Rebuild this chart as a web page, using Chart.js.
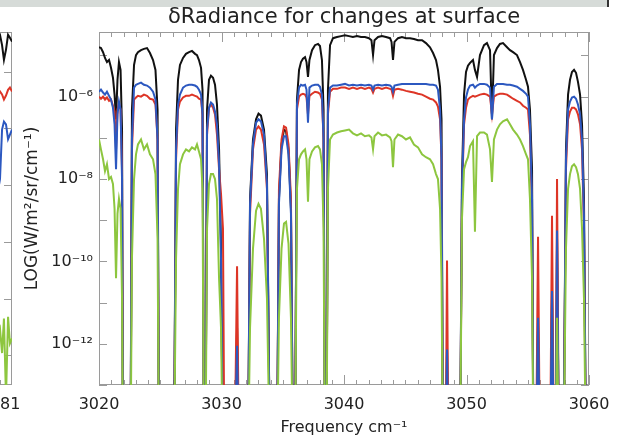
<!DOCTYPE html>
<html>
<head>
<meta charset="utf-8">
<script src="https://cdn.jsdelivr.net/npm/chart.js@4.4.1/dist/chart.umd.min.js"></script>
<style>
  html, body { margin: 0; padding: 0; background: #fff; overflow: hidden; }
  #wrap { position: relative; width: 621px; height: 437px; overflow: hidden; background: #fff; }
  #topBar { position: absolute; left: 0; top: 0; width: 607px; height: 7px; background: #d6dbd8; border-right: 2px solid #333; }
  #mainChart { position: absolute; left: 0; top: 0; }
  #leftChart { position: absolute; left: -108px; top: 0; }
</style>
</head>
<body>
<div id="wrap">
  <canvas id="mainChart" width="621" height="437"></canvas>
  <canvas id="leftChart" width="150" height="437"></canvas>
  <div id="topBar"></div>
</div>
<script>
// frequency grid (cm-1), shared by the four curves of the main panel
const freq = [
  3020.00, 3020.16, 3020.33, 3020.49, 3020.65, 3020.82, 3020.98, 3021.14, 3021.27, 3021.39, 3021.51, 3021.63, 3021.76, 3021.88,
  3021.96, 3022.57,
  3022.69, 3022.86, 3023.02, 3023.18, 3023.43, 3023.67, 3023.92, 3024.16, 3024.41, 3024.61, 3024.78,
  3024.90, 3026.12,
  3026.29, 3026.45, 3026.61, 3026.86, 3027.10, 3027.35, 3027.59, 3027.84, 3028.00, 3028.16, 3028.33, 3028.45,
  3028.57, 3028.69,
  3028.82, 3028.98, 3029.14, 3029.31, 3029.47, 3029.63, 3029.80, 3029.96,
  3030.12, 3030.24, 3031.06,
  3031.27, 3031.43, 3032.16,
  3032.33, 3032.57, 3032.82, 3033.02, 3033.22, 3033.47, 3033.71,
  3033.96, 3034.53,
  3034.69, 3034.90, 3035.10, 3035.27, 3035.47, 3035.67,
  3035.84, 3036.00,
  3036.16, 3036.33, 3036.49, 3036.65, 3036.82, 3036.94, 3037.06, 3037.18, 3037.39, 3037.63, 3037.88, 3038.04, 3038.20, 3038.33,
  3038.45, 3038.57,
  3038.69, 3038.86, 3039.10, 3039.43, 3039.76, 3040.08, 3040.41, 3040.73, 3041.06, 3041.39, 3041.71, 3042.04,
  3042.24, 3042.37, 3042.49, 3042.78, 3043.10, 3043.43, 3043.76, 3043.88, 3044.00, 3044.12, 3044.41, 3044.73,
  3045.06, 3045.39, 3045.71, 3046.04, 3046.37, 3046.69, 3047.02, 3047.27, 3047.51, 3047.67, 3047.84, 3047.96,
  3048.08, 3048.29, 3048.41, 3048.53, 3049.47,
  3049.63, 3049.80, 3049.96, 3050.12, 3050.29, 3050.53, 3050.69, 3050.86, 3051.10, 3051.43, 3051.67, 3051.92, 3052.08, 3052.24,
  3052.49, 3052.73, 3052.98, 3053.31, 3053.55, 3053.80, 3054.12, 3054.37, 3054.61, 3054.86, 3055.02, 3055.18, 3055.35,
  3055.47, 3055.67, 3055.84, 3056.00, 3056.82, 3056.98, 3057.14, 3057.27, 3057.39, 3057.55, 3057.92,
  3058.12, 3058.29, 3058.45, 3058.61, 3058.78, 3058.94, 3059.10, 3059.27, 3059.43, 3059.59,
  3059.76, 3060.00
];

// log10 of the radiance change (-15 = far below the axis)
const blackLog = [
  -4.80, -4.82, -4.92, -5.06, -5.16, -5.11, -5.30, -5.54, -5.95, -6.55, -5.59, -5.16, -5.35, -6.80,
  -15, -15,
  -6.31, -5.23, -4.99, -4.92, -4.87, -4.84, -4.82, -4.94, -5.11, -5.35, -6.31,
  -15, -15,
  -6.80, -5.59, -5.23, -5.06, -4.96, -4.92, -4.89, -4.96, -4.99, -5.11, -5.30, -5.83,
  -15, -15,
  -6.31, -5.59, -5.49, -5.54, -5.71, -6.19, -7.28, -9.69,
  -15, -15, -15,
  -11.61, -15, -15,
  -8.48, -7.04, -6.55, -6.41, -6.46, -6.80, -7.88,
  -15, -15,
  -8.48, -7.16, -6.80, -6.84, -7.28, -8.72,
  -15, -15,
  -6.07, -5.35, -5.16, -5.08, -5.04, -5.16, -5.52, -5.11, -4.87, -4.75, -4.72, -4.77, -5.11, -6.31,
  -15, -15,
  -5.83, -4.75, -4.58, -4.55, -4.53, -4.51, -4.53, -4.55, -4.53, -4.55, -4.55, -4.58,
  -4.63, -4.99, -4.63, -4.55, -4.53, -4.55, -4.58, -4.67, -5.11, -4.67, -4.58, -4.55,
  -4.58, -4.58, -4.60, -4.63, -4.63, -4.70, -4.80, -4.94, -5.11, -5.35, -5.76, -6.55,
  -15, -15, -12.10, -15, -15,
  -8.00, -5.95, -5.40, -5.25, -5.18, -5.11, -5.35, -5.52, -4.99, -4.75, -4.70, -4.87, -6.55, -4.99,
  -4.82, -4.72, -4.70, -4.80, -4.87, -4.92, -4.99, -5.16, -5.35, -5.59, -5.76, -6.31, -7.76,
  -15, -15, -11.61, -15, -15, -10.89, -15, -15, -9.45, -15, -15,
  -7.28, -5.95, -5.59, -5.40, -5.35, -5.42, -5.64, -5.95, -6.67, -8.48,
  -15, -15
];

const redLog = [
  -6.00, -6.05, -6.00, -6.07, -6.02, -6.10, -6.07, -6.22, -6.36, -7.28, -6.31, -6.17, -6.31, -7.76,
  -15, -15,
  -7.28, -6.07, -6.02, -5.98, -6.00, -5.95, -5.98, -6.05, -6.07, -6.19, -7.04,
  -15, -15,
  -7.52, -6.31, -6.12, -6.02, -5.98, -5.98, -5.95, -5.98, -6.00, -6.05, -6.07, -6.43,
  -15, -15,
  -6.92, -6.27, -6.19, -6.27, -6.43, -6.92, -7.76, -8.36,
  -9.20, -15, -15,
  -10.12, -15, -15,
  -8.84, -7.28, -6.80, -6.72, -6.80, -7.16, -8.24,
  -15, -15,
  -8.24, -7.04, -6.72, -6.75, -7.16, -8.48,
  -15, -15,
  -6.31, -6.00, -5.95, -5.93, -5.95, -6.02, -6.43, -5.98, -5.93, -5.88, -5.90, -5.93, -6.07, -7.04,
  -15, -15,
  -6.43, -5.88, -5.81, -5.81, -5.78, -5.78, -5.81, -5.78, -5.81, -5.78, -5.81, -5.78,
  -5.81, -5.90, -5.81, -5.78, -5.81, -5.78, -5.81, -5.83, -5.98, -5.83, -5.81, -5.83,
  -5.86, -5.88, -5.90, -5.93, -5.95, -6.00, -6.05, -6.07, -6.14, -6.24, -6.55, -7.52,
  -15, -15, -9.98, -15, -15,
  -8.48, -6.67, -6.27, -6.07, -6.02, -5.98, -6.00, -5.98, -5.95, -5.93, -5.95, -6.00, -6.43, -6.00,
  -5.95, -5.93, -5.93, -5.95, -6.00, -6.05, -6.10, -6.14, -6.22, -6.27, -6.31, -6.92, -8.72,
  -15, -15, -9.40, -15, -15, -8.89, -15, -15, -8.00, -15, -15,
  -7.76, -6.55, -6.36, -6.27, -6.27, -6.31, -6.43, -6.67, -7.28, -9.20,
  -15, -15
];

const blueLog = [
  -5.88, -5.83, -5.90, -5.95, -5.88, -5.98, -6.07, -6.27, -6.67, -7.76, -6.43, -6.12, -6.31, -8.00,
  -15, -15,
  -7.04, -5.78, -5.71, -5.69, -5.66, -5.71, -5.73, -5.78, -5.88, -6.07, -7.04,
  -15, -15,
  -7.28, -6.19, -5.95, -5.78, -5.73, -5.71, -5.71, -5.73, -5.76, -5.83, -5.95, -6.43,
  -15, -15,
  -6.80, -6.27, -6.14, -6.19, -6.36, -6.67, -7.64, -9.93,
  -15, -15, -15,
  -12.05, -15, -15,
  -8.60, -7.16, -6.63, -6.55, -6.60, -6.92, -8.12,
  -15, -15,
  -8.60, -7.28, -6.96, -6.96, -7.40, -8.84,
  -15, -15,
  -6.19, -5.78, -5.71, -5.73, -5.71, -5.83, -6.63, -5.78, -5.73, -5.71, -5.71, -5.76, -5.95, -7.04,
  -15, -15,
  -6.31, -5.78, -5.73, -5.73, -5.71, -5.69, -5.73, -5.71, -5.73, -5.71, -5.73, -5.71,
  -5.73, -5.83, -5.73, -5.71, -5.73, -5.71, -5.73, -5.76, -5.88, -5.73, -5.71, -5.69,
  -5.69, -5.69, -5.69, -5.69, -5.69, -5.69, -5.71, -5.71, -5.73, -5.83, -6.31, -7.52,
  -15, -15, -12.14, -15, -15,
  -8.24, -6.55, -6.02, -5.83, -5.73, -5.71, -5.78, -5.73, -5.69, -5.69, -5.71, -5.78, -6.55, -5.76,
  -5.69, -5.69, -5.69, -5.71, -5.71, -5.73, -5.76, -5.81, -5.86, -5.93, -6.00, -6.67, -8.48,
  -15, -15, -11.37, -15, -15, -10.72, -15, -15, -9.25, -15, -15,
  -7.52, -6.31, -6.12, -6.02, -6.00, -6.05, -6.19, -6.43, -7.04, -8.96,
  -15, -15
];

const greenLog = [
  -7.04, -7.28, -7.52, -7.81, -7.64, -8.00, -7.95, -8.12, -8.72, -10.41, -8.84, -8.48, -8.72, -10.89,
  -15, -15,
  -9.93, -8.00, -7.40, -7.16, -7.04, -7.28, -7.16, -7.40, -7.52, -7.88, -9.45,
  -15, -15,
  -9.93, -8.24, -7.64, -7.40, -7.28, -7.33, -7.23, -7.28, -7.16, -7.33, -7.52, -8.24,
  -15, -15,
  -9.20, -8.12, -7.88, -7.88, -8.00, -8.48, -10.41, -11.61,
  -15, -15, -15,
  -15, -15, -15,
  -11.61, -9.69, -8.77, -8.60, -8.72, -9.45, -10.89,
  -15, -15,
  -11.37, -9.69, -9.08, -9.04, -9.57, -11.37,
  -15, -15,
  -8.24, -7.52, -7.40, -7.33, -7.28, -7.52, -8.55, -7.52, -7.33, -7.23, -7.20, -7.28, -7.64, -9.20,
  -15, -15,
  -8.24, -7.04, -6.92, -6.87, -6.84, -6.82, -6.80, -6.89, -6.94, -6.89, -6.96, -6.94,
  -6.99, -7.28, -6.96, -6.87, -6.94, -6.92, -6.99, -7.08, -7.71, -7.04, -6.92, -6.96,
  -7.04, -6.99, -7.16, -7.23, -7.40, -7.47, -7.52, -7.64, -7.88, -8.00, -8.72, -10.41,
  -15, -15, -15, -15, -15,
  -8.96, -7.76, -7.59, -7.47, -7.20, -7.08, -9.28, -6.96, -6.87, -6.87, -6.92, -7.28, -8.07, -7.04,
  -6.80, -6.67, -6.60, -6.55, -6.67, -6.80, -6.92, -7.04, -7.20, -7.40, -7.52, -8.48, -10.41,
  -15, -15, -15, -15, -15, -15, -15, -15, -11.37, -15, -15,
  -9.69, -8.24, -7.88, -7.69, -7.64, -7.71, -7.88, -8.24, -9.20, -10.89,
  -15, -15
];

const xTicks = [3020, 3030, 3040, 3050, 3060];
const yTickExp = [-12, -10, -8, -6];
const yTickLabels = ['10⁻¹²', '10⁻¹⁰', '10⁻⁸', '10⁻⁶'];

// the neighbouring panel, only its right edge shows
const leftFreq = [2980.80, 2981.00, 2981.12, 2981.23, 2981.35, 2981.47, 2981.58, 2981.70];
const leftBlackLog = [-6.26, -6.35, -6.53, -6.79, -6.61, -6.35, -6.40, -6.47];
const leftRedLog = [-7.40, -7.35, -7.40, -7.49, -7.42, -7.32, -7.28, -7.35];
const leftBlueLog = [-9.25, -8.89, -8.02, -7.88, -7.93, -8.19, -8.11, -8.02];
const leftGreenLog = [-11.70, -11.53, -11.96, -11.35, -12.75, -11.32, -11.79, -11.70];
const leftXTicks = [2981];

const FONT = "'DejaVu Sans', 'Liberation Sans', sans-serif";
const TEXT = '#222222';
const COLORS = { black: '#111111', red: '#dd3526', blue: '#2c58c0', green: '#8dc63f' };

function toPoints(xs, logs) {
  return xs.map((f, i) => ({ x: f, y: Math.pow(10, logs[i]) }));
}

function series(label, color, xs, logs, order) {
  return {
    label: label,
    data: toPoints(xs, logs),
    borderColor: color,
    borderWidth: 2,
    pointRadius: 0,
    tension: 0,
    fill: false,
    order: order
  };
}

// box round the plot with inward ticks, IDL style
const frameTicks = {
  id: 'frameTicks',
  beforeDatasetsDraw(chart, args, opts) {
    const { ctx, chartArea: a, scales: { x, y } } = chart;
    ctx.save();
    ctx.strokeStyle = opts.color;
    ctx.lineWidth = 1;
    ctx.strokeRect(a.left + 0.5, a.top + 0.5, a.width - 1, a.height - 1);
    ctx.beginPath();
    for (let v = Math.ceil(x.min); v <= x.max; v++) {
      const px = Math.round(x.getPixelForValue(v)) + 0.5;
      const len = v % 10 === 0 ? 10 : 5;
      ctx.moveTo(px, a.bottom); ctx.lineTo(px, a.bottom - len);
      ctx.moveTo(px, a.top); ctx.lineTo(px, a.top + len);
    }
    const lo = Math.ceil(Math.log10(y.min) - 1e-6);
    const hi = Math.floor(Math.log10(y.max) + 1e-6);
    for (let e = lo; e <= hi; e++) {
      const py = Math.round(y.getPixelForValue(Math.pow(10, e))) + 0.5;
      ctx.moveTo(a.left, py); ctx.lineTo(a.left + 8, py);
      ctx.moveTo(a.right, py); ctx.lineTo(a.right - 8, py);
    }
    ctx.stroke();
    ctx.restore();
  }
};

new Chart(document.getElementById('mainChart'), {
  type: 'line',
  data: {
    datasets: [
      series('black', COLORS.black, freq, blackLog, 4),
      series('red', COLORS.red, freq, redLog, 3),
      series('blue', COLORS.blue, freq, blueLog, 2),
      series('green', COLORS.green, freq, greenLog, 1)
    ]
  },
  options: {
    responsive: false,
    animation: false,
    devicePixelRatio: 1,
    layout: { padding: { left: 0, right: 32, top: 0, bottom: 0 } },
    plugins: {
      legend: { display: false },
      tooltip: { enabled: false },
      title: {
        display: true,
        text: 'δRadiance for changes at surface',
        fullSize: false,
        color: TEXT,
        font: { family: FONT, size: 21, weight: 'normal' },
        padding: { top: 5, bottom: 1.8 }
      },
      frameTicks: { color: '#9a9a9a' }
    },
    scales: {
      x: {
        type: 'linear',
        min: 3020,
        max: 3060,
        afterBuildTicks: s => { s.ticks = xTicks.map(v => ({ value: v })); },
        afterFit: s => { s.height = 52; s.paddingLeft = 0; s.paddingRight = 0; },
        grid: { display: false, drawTicks: false },
        border: { display: false },
        ticks: {
          color: TEXT,
          font: { family: FONT, size: 16 },
          padding: 10,
          maxRotation: 0,
          autoSkip: false,
          callback: v => String(v)
        },
        title: {
          display: true,
          text: 'Frequency cm⁻¹',
          color: TEXT,
          font: { family: FONT, size: 16 },
          padding: 0
        }
      },
      y: {
        type: 'logarithmic',
        min: 1e-13,
        max: Math.pow(10, -4.43),
        afterBuildTicks: s => { s.ticks = yTickExp.map(e => ({ value: Math.pow(10, e) })); },
        afterFit: s => { s.width = 99; },
        grid: { display: false, drawTicks: false },
        border: { display: false },
        ticks: {
          color: TEXT,
          font: { family: FONT, size: 16 },
          padding: 6,
          autoSkip: false,
          callback: (v, i) => yTickLabels[i]
        },
        title: {
          display: true,
          text: 'LOG(W/m²/sr/cm⁻¹)',
          color: TEXT,
          font: { family: FONT, size: 17 },
          padding: { top: 22, bottom: 0 }
        }
      }
    }
  },
  plugins: [frameTicks]
});

new Chart(document.getElementById('leftChart'), {
  type: 'line',
  data: {
    datasets: [
      series('black', COLORS.black, leftFreq, leftBlackLog, 4),
      series('red', COLORS.red, leftFreq, leftRedLog, 3),
      series('blue', COLORS.blue, leftFreq, leftBlueLog, 2),
      series('green', COLORS.green, leftFreq, leftGreenLog, 1)
    ]
  },
  options: {
    responsive: false,
    animation: false,
    devicePixelRatio: 1,
    layout: { padding: { left: 0, right: 30, top: 32, bottom: 0 } },
    plugins: {
      legend: { display: false },
      tooltip: { enabled: false },
      frameTicks: { color: '#9a9a9a' }
    },
    scales: {
      x: {
        type: 'linear',
        min: 2974.7,
        max: 2981.7,
        afterBuildTicks: s => { s.ticks = leftXTicks.map(v => ({ value: v })); },
        afterFit: s => { s.height = 52; s.paddingLeft = 0; s.paddingRight = 0; },
        grid: { display: false, drawTicks: false },
        border: { display: false },
        ticks: {
          color: TEXT,
          font: { family: FONT, size: 16 },
          padding: 10,
          maxRotation: 0,
          autoSkip: false,
          callback: v => String(v)
        }
      },
      y: {
        type: 'logarithmic',
        display: false,
        min: Math.pow(10, -12.5),
        max: Math.pow(10, -6.3)
      }
    }
  },
  plugins: [frameTicks]
});
</script>
</body>
</html>
